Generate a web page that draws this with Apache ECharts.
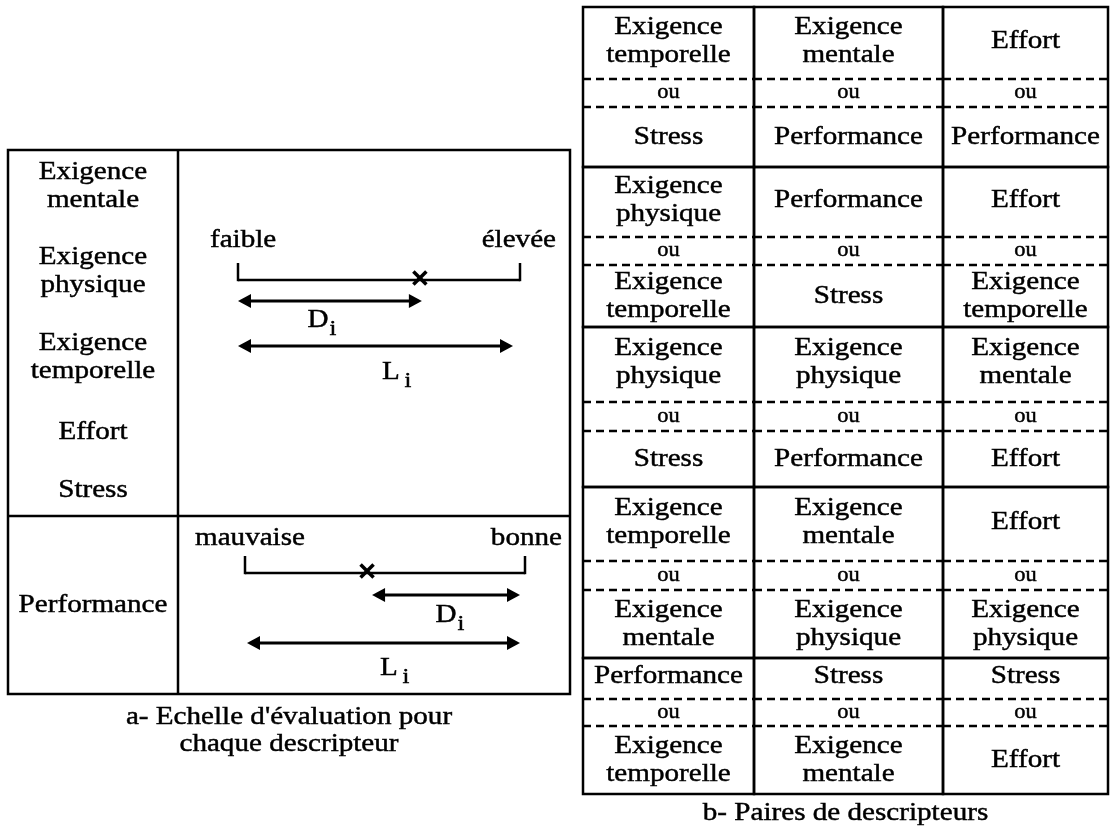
<!DOCTYPE html>
<html><head><meta charset="utf-8">
<script src="https://cdn.jsdelivr.net/npm/echarts@6/dist/echarts.min.js"></script>
<style>html,body{margin:0;padding:0;background:#fff}#c{width:1110px;height:827px}</style>
</head><body><div id="c"></div>
<script>
// ---------- data ----------
const descriptors = ['Exigence\nmentale', 'Exigence\nphysique', 'Exigence\ntemporelle', 'Effort', 'Stress'];
const performanceLabel = 'Performance';
const scaleEnds = [['faible', 'élevée'], ['mauvaise', 'bonne']];
const markPositions = [0.645, 0.436];      // position of the cross on each scale (fraction of length)
const distanceLabels = ['D', 'L'];
const subscript = 'i';
const pairRows = [
  [['Exigence\ntemporelle', 'Stress'], ['Exigence\nmentale', 'Performance'], ['Effort', 'Performance']],
  [['Exigence\nphysique', 'Exigence\ntemporelle'], ['Performance', 'Stress'], ['Effort', 'Exigence\ntemporelle']],
  [['Exigence\nphysique', 'Stress'], ['Exigence\nphysique', 'Performance'], ['Exigence\nmentale', 'Effort']],
  [['Exigence\ntemporelle', 'Exigence\nmentale'], ['Exigence\nmentale', 'Exigence\nphysique'], ['Effort', 'Exigence\nphysique']],
  [['Performance', 'Exigence\ntemporelle'], ['Stress', 'Exigence\nmentale'], ['Stress', 'Effort']]
];
const orWord = 'ou';
const captionA = "a- Echelle d'évaluation pour\nchaque descripteur";
const captionB = 'b- Paires de descripteurs';

// ---------- layout ----------
const FONT = "'Liberation Serif', 'Times New Roman', serif";
const FS = 26, SX = 1.12, LH = 28, LW = 2.5;
const LB = { x0: 8, x1: 570, y0: 150, y1: 694, xDiv: 178, yDiv: 516, textX: 93,
  descY: [186, 271, 357, 432, 490], perfY: 605, capY: 731 };
const SC = [
  { x0: 238, x1: 520, y: 280, labelY: 240, labelL: 210, labelR: 556, dY: 301, dLabel: [322, 320], lY: 346, lLabel: [397, 372], lX0: 238, lX1: 513, dFromMark: false },
  { x0: 245, x1: 525, y: 573, labelY: 538, labelL: 195, labelR: 562, dY: 595, dLabel: [450, 615], lY: 643, lLabel: [395, 668], lX0: 247, lX1: 520, dFromMark: true }
];
const TB = { x: [583, 754, 943, 1108], y: [7, 167, 327, 487, 658, 794],
  dash: [[79, 107], [237, 265], [402, 431], [561, 590], [699, 726]], capY: 813 };

// ---------- helpers ----------
function txt(p, text, opt) {
  opt = opt || {};
  const fs = opt.fs || FS;
  return { type: 'text', x: p[0], y: p[1], scaleX: opt.sx || SX, scaleY: 1,
    style: { text: text, x: 0, y: 0, fill: '#000',
      font: fs + 'px ' + FONT,
      stroke: '#000', lineWidth: 0.45,
      lineHeight: opt.lh || LH,
      align: opt.align || 'center', textAlign: opt.align || 'center',
      verticalAlign: 'middle', textVerticalAlign: 'middle' } };
}
function seg(a, b, dash, lw) {
  return { type: 'line', shape: { x1: a[0], y1: a[1], x2: b[0], y2: b[1] },
    style: { stroke: '#000', lineWidth: lw || LW, lineDash: dash || null, lineCap: 'butt' } };
}
function frame(a, b) {
  return { type: 'rect', shape: { x: a[0], y: a[1], width: b[0] - a[0], height: b[1] - a[1] },
    style: { fill: 'none', stroke: '#000', lineWidth: LW } };
}
function arrow(api, xa, xb, y) {
  const P = (x, yy) => api.coord([x, yy]);
  const al = 13, ah = 7;
  return [
    seg(P(xa + al - 2, y), P(xb - al + 2, y), null, 3.2),
    { type: 'polygon', shape: { points: [P(xa, y), P(xa + al, y - ah), P(xa + al, y + ah)] }, style: { fill: '#000' } },
    { type: 'polygon', shape: { points: [P(xb, y), P(xb - al, y - ah), P(xb - al, y + ah)] }, style: { fill: '#000' } }
  ];
}

// ---------- series renderers ----------
function renderCell(params, api) {
  const r = api.value(0), c = api.value(1);
  const P = (x, y) => api.coord([x, y]);
  const top = TB.y[r], bot = TB.y[r + 1], d1 = TB.dash[r][0], d2 = TB.dash[r][1];
  const x0 = TB.x[c], x1 = TB.x[c + 1], cx = (x0 + x1) / 2;
  const pair = pairRows[r][c];
  return { type: 'group', children: [
    frame(P(x0, top), P(x1, bot)),
    seg(P(x0, d1), P(x1, d1), [8, 5]),
    seg(P(x0, d2), P(x1, d2), [8, 5]),
    txt(P(cx, (top + d1) / 2 - 2), pair[0]),
    txt(P(cx, (d1 + d2) / 2), orWord, { fs: 20 }),
    txt(P(cx, (d2 + bot) / 2), pair[1])
  ] };
}
function renderDesc(params, api) {
  const i = params.dataIndex;
  return txt(api.coord([LB.textX, LB.descY[i]]), descriptors[i]);
}
function renderScale(params, api) {
  const i = params.dataIndex, s = SC[i], m = api.value(0);
  const P = (x, y) => api.coord([x, y]);
  const mx = s.x0 + m * (s.x1 - s.x0);
  const ch = [];
  ch.push(txt(P(s.labelL, s.labelY), scaleEnds[i][0], { align: 'left' }));
  ch.push(txt(P(s.labelR, s.labelY), scaleEnds[i][1], { align: 'right' }));
  ch.push(seg(P(s.x0, s.y), P(s.x1, s.y), null, 2.5));
  ch.push(seg(P(s.x0, s.y - 17), P(s.x0, s.y + 1.2), null, 2.5));
  ch.push(seg(P(s.x1, s.y - 17), P(s.x1, s.y + 1.2), null, 2.5));
  const k = 6.5;
  ch.push(seg(P(mx - k, s.y - 2 - k), P(mx + k, s.y - 2 + k), null, 3.5));
  ch.push(seg(P(mx - k, s.y - 2 + k), P(mx + k, s.y - 2 - k), null, 3.5));
  if (s.dFromMark) ch.push.apply(ch, arrow(api, mx + 5, s.x1 - 5, s.dY));
  else ch.push.apply(ch, arrow(api, s.x0, mx + 2, s.dY));
  ch.push.apply(ch, arrow(api, s.lX0, s.lX1, s.lY));
  ch.push(txt(P(s.dLabel[0] - 4, s.dLabel[1]), distanceLabels[0]));
  ch.push(txt(P(s.dLabel[0] + 11, s.dLabel[1] + 9), subscript, { fs: 22 }));
  ch.push(txt(P(s.lLabel[0] - 6, s.lLabel[1]), distanceLabels[1]));
  ch.push(txt(P(s.lLabel[0] + 11, s.lLabel[1] + 9), subscript, { fs: 22 }));
  return { type: 'group', children: ch };
}
function renderFrames(params, api) {
  const P = (x, y) => api.coord([x, y]);
  return { type: 'group', children: [
    frame(P(LB.x0, LB.y0), P(LB.x1, LB.y1)),
    seg(P(LB.xDiv, LB.y0), P(LB.xDiv, LB.y1)),
    seg(P(LB.x0, LB.yDiv), P(LB.x1, LB.yDiv)),
    txt(P(LB.textX, LB.perfY), performanceLabel),
    txt(P((LB.x0 + LB.x1) / 2, LB.capY), captionA, { lh: 27 }),
    txt(P((TB.x[0] + TB.x[3]) / 2, TB.capY), captionB)
  ] };
}

const cells = [];
pairRows.forEach((row, r) => row.forEach((_, c) => cells.push([r, c])));

const chart = echarts.init(document.getElementById('c'), null, { renderer: 'canvas' });
chart.setOption({
  animation: false,
  backgroundColor: '#fff',
  grid: { left: 0, right: 0, top: 0, bottom: 0 },
  xAxis: { type: 'value', min: 0, max: 1110, show: false },
  yAxis: { type: 'value', min: 0, max: 827, inverse: true, show: false },
  series: [
    { type: 'custom', clip: false, silent: true, renderItem: renderFrames, data: [[0, 0]] },
    { type: 'custom', clip: false, silent: true, renderItem: renderDesc, data: descriptors.map((d, i) => [i, 0]) },
    { type: 'custom', clip: false, silent: true, renderItem: renderScale, data: markPositions.map(v => [v, 0]) },
    { type: 'custom', clip: false, silent: true, renderItem: renderCell, data: cells }
  ]
});
</script></body></html>
